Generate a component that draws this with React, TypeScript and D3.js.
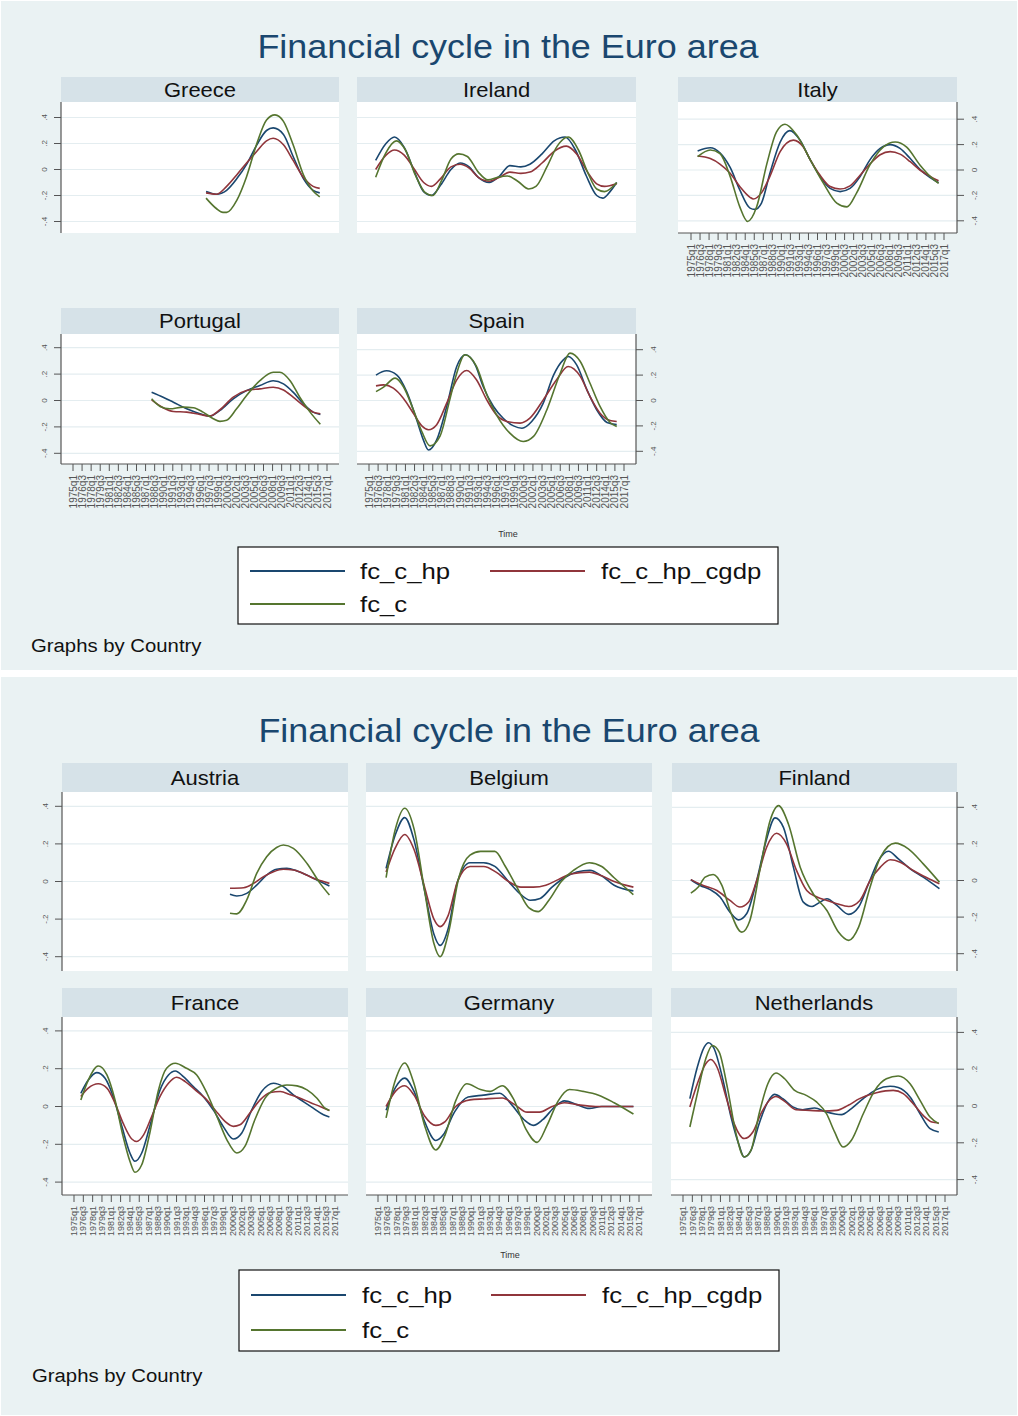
import React from "react";
import * as d3 from "d3";

type P = [number, number][];

const C_HP = "#1a476f";
const C_CGDP = "#90353b";
const C_C = "#55752f";

const seriesNames = ["fc_c_hp", "fc_c_hp_cgdp", "fc_c"];
const seriesColors = [C_HP, C_CGDP, C_C];

const yTickValues = [-0.4, -0.2, 0, 0.2, 0.4];
const yTickLabels = ["-.4", "-.2", "0", ".2", ".4"];

const xTickLabels = [
  "1975q1", "1976q3", "1978q1", "1979q3", "1981q1", "1982q3", "1984q1", "1985q3",
  "1987q1", "1988q3", "1990q1", "1991q3", "1993q1", "1994q3", "1996q1", "1997q3",
  "1999q1", "2000q3", "2002q1", "2003q3", "2005q1", "2006q3", "2008q1", "2009q3",
  "2011q1", "2012q3", "2014q1", "2015q3", "2017q1",
];
const xTickYears = xTickLabels.map((s) => +s.slice(0, 4) + (+s.slice(5) - 1) / 4);

// ---------- Graph 1 ----------
const greeceHp: P = [[1997.0,-0.17],[1998.7,-0.19],[2000.4,-0.16],[2002.1,-0.07],[2003.7,0.04],[2005.4,0.19],[2007.0,0.30],[2008.1,0.32],[2009.8,0.27],[2011.4,0.10],[2013.1,-0.07],[2014.7,-0.16],[2015.8,-0.18]];
const greeceCgdp: P = [[1997.0,-0.18],[1998.7,-0.19],[2000.4,-0.13],[2002.1,-0.04],[2003.7,0.05],[2005.4,0.14],[2007.0,0.22],[2008.1,0.24],[2009.8,0.19],[2011.4,0.07],[2013.1,-0.06],[2014.7,-0.13],[2015.8,-0.145]];
const greeceC: P = [[1997.0,-0.22],[1998.7,-0.30],[1999.8,-0.33],[2000.4,-0.33],[2002.1,-0.235],[2003.7,-0.055],[2005.4,0.20],[2007.0,0.38],[2008.4,0.42],[2009.8,0.37],[2011.4,0.19],[2013.1,-0.04],[2014.7,-0.165],[2015.8,-0.21]];

const irelandHp: P = [[1976.1,0.07],[1977.8,0.2],[1979.2,0.25],[1980.8,0.17],[1982.5,-0.02],[1984,-0.17],[1985.3,-0.2],[1986.8,-0.12],[1988.5,0.0],[1990.0,0.05],[1991.5,0.02],[1993,-0.06],[1994.8,-0.1],[1996.5,-0.05],[1998.2,0.03],[2000,0.02],[2001.5,0.04],[2003.5,0.12],[2005.5,0.22],[2007.3,0.25],[2009,0.15],[2010.8,-0.05],[2012.5,-0.2],[2013.5,-0.22],[2014.7,-0.17],[2015.8,-0.1]];
const irelandCgdp: P = [[1976.1,0.0],[1977.8,0.11],[1979.2,0.15],[1980.8,0.11],[1982.5,0.0],[1984,-0.1],[1985.3,-0.13],[1986.8,-0.07],[1988.5,0.02],[1990.0,0.04],[1991.5,0.01],[1993,-0.06],[1994.8,-0.09],[1996.5,-0.06],[1998.2,-0.02],[2000,-0.03],[2001.5,-0.02],[2003.5,0.05],[2005.5,0.14],[2007.5,0.18],[2009.2,0.12],[2011,-0.02],[2012.5,-0.11],[2013.8,-0.13],[2015.8,-0.11]];
const irelandC: P = [[1976.1,-0.06],[1977.8,0.13],[1979.5,0.22],[1981,0.15],[1982.7,-0.05],[1984.3,-0.18],[1985.5,-0.2],[1987,-0.08],[1988.5,0.08],[1989.8,0.12],[1991.2,0.1],[1993,-0.02],[1994.6,-0.08],[1996.2,-0.06],[1997.8,-0.05],[1999.5,-0.09],[2001.3,-0.15],[2002.5,-0.13],[2004.3,0.02],[2006,0.18],[2007.8,0.25],[2009.5,0.15],[2011,-0.02],[2012.5,-0.15],[2013.8,-0.17],[2015.8,-0.1]];

const italyHp: P = [[1976.1,0.15],[1978.2,0.175],[1979.8,0.135],[1981.5,0.02],[1983.1,-0.157],[1984.8,-0.30],[1985.6,-0.31],[1986.7,-0.26],[1988.1,-0.026],[1989.8,0.22],[1991.4,0.31],[1993.1,0.235],[1994.8,0.08],[1996.4,-0.05],[1998.1,-0.145],[1999.75,-0.17],[2001.4,-0.145],[2003.1,-0.05],[2004.7,0.08],[2006.4,0.17],[2008.06,0.20],[2009.7,0.17],[2011.4,0.09],[2013.0,0.005],[2014.7,-0.06],[2016.1,-0.10]];
const italyCgdp: P = [[1976.1,0.11],[1978.2,0.09],[1979.8,0.047],[1981.5,-0.026],[1983.1,-0.13],[1984.8,-0.215],[1985.35,-0.228],[1986.7,-0.18],[1988.1,-0.05],[1989.8,0.145],[1992.0,0.235],[1993.65,0.18],[1994.8,0.08],[1996.4,-0.04],[1998.1,-0.13],[1999.75,-0.15],[2001.4,-0.125],[2003.1,-0.04],[2004.7,0.047],[2006.4,0.12],[2008.06,0.145],[2009.7,0.125],[2011.4,0.065],[2013.0,0.0],[2014.7,-0.05],[2016.1,-0.085]];
const italyC: P = [[1976.1,0.105],[1978.2,0.157],[1979.8,0.13],[1981.5,-0.05],[1983.1,-0.29],[1984.4,-0.405],[1985.9,-0.29],[1987.6,0.05],[1989.2,0.30],[1990.6,0.36],[1992.55,0.275],[1994.8,0.08],[1997.0,-0.105],[1999.2,-0.26],[2000.9,-0.29],[2002.5,-0.18],[2004.7,0.04],[2006.9,0.18],[2008.9,0.22],[2010.8,0.18],[2013.0,0.04],[2014.7,-0.05],[2016.1,-0.105]];

const portugalHp: P = [[1988.0,0.063],[1989.9,0.025],[1991.6,-0.013],[1993.8,-0.063],[1996.0,-0.10],[1997.6,-0.118],[1999.3,-0.075],[2001.5,0.013],[2003.7,0.075],[2005.9,0.113],[2008.1,0.15],[2009.8,0.126],[2011.4,0.063],[2013.1,-0.025],[2014.7,-0.088],[2015.9,-0.106]];
const portugalCgdp: P = [[1988.0,0.005],[1989.9,-0.055],[1991.6,-0.083],[1993.8,-0.088],[1996.0,-0.106],[1997.6,-0.118],[1999.3,-0.07],[2001.5,0.025],[2003.7,0.075],[2005.9,0.088],[2008.1,0.10],[2009.8,0.08],[2011.4,0.025],[2013.1,-0.038],[2014.7,-0.088],[2015.9,-0.10]];
const portugalC: P = [[1988.0,0.013],[1989.4,-0.045],[1991.0,-0.063],[1993.2,-0.05],[1994.9,-0.055],[1996.5,-0.088],[1998.2,-0.138],[1999.3,-0.158],[2000.4,-0.15],[2002.05,-0.063],[2003.7,0.038],[2005.9,0.15],[2008.1,0.214],[2009.2,0.214],[2010.9,0.15],[2012.5,0.025],[2014.2,-0.088],[2015.9,-0.18]];

const spainHp: P = [[1976.15,0.20],[1977.9,0.234],[1979.6,0.20],[1981.2,0.07],[1982.85,-0.152],[1983.95,-0.31],[1984.8,-0.39],[1986.15,-0.31],[1987.8,-0.047],[1989.45,0.268],[1990.9,0.36],[1992.5,0.28],[1993.8,0.11],[1995.5,-0.047],[1997.1,-0.14],[1998.8,-0.20],[2000.2,-0.218],[2001.8,-0.165],[2003.7,-0.021],[2005.4,0.20],[2007.0,0.32],[2007.8,0.346],[2009.2,0.28],[2010.9,0.084],[2012.5,-0.073],[2014.2,-0.173],[2015.8,-0.19]];
const spainCgdp: P = [[1976.15,0.115],[1977.4,0.123],[1979.0,0.097],[1980.65,0.018],[1982.3,-0.10],[1983.7,-0.20],[1984.8,-0.23],[1986.15,-0.19],[1987.8,-0.021],[1989.45,0.163],[1991.1,0.236],[1992.7,0.163],[1994.4,0.005],[1996.0,-0.113],[1997.7,-0.165],[1999.9,-0.178],[2001.5,-0.139],[2003.7,0.005],[2005.9,0.163],[2007.8,0.268],[2009.8,0.19],[2011.4,0.031],[2013.05,-0.10],[2014.7,-0.157],[2015.8,-0.165]];
const spainC: P = [[1976.15,0.07],[1977.4,0.105],[1979.3,0.176],[1980.65,0.11],[1982.3,-0.073],[1983.7,-0.244],[1985.05,-0.357],[1986.7,-0.28],[1988.3,0.005],[1989.45,0.215],[1990.8,0.36],[1992.7,0.268],[1994.4,0.045],[1996.0,-0.113],[1998.2,-0.257],[2000.4,-0.323],[2002.1,-0.283],[2004.3,-0.073],[2006.5,0.215],[2008.1,0.373],[2009.8,0.307],[2011.4,0.136],[2013.05,-0.047],[2014.7,-0.173],[2015.8,-0.205]];

// ---------- Graph 2 ----------
const austriaHp: P = [[2000.1,-0.068],[2001.2,-0.077],[2002.8,-0.063],[2004.4,-0.019],[2006.0,0.034],[2007.6,0.065],[2009.25,0.07],[2010.9,0.056],[2012.5,0.034],[2014.1,0.008],[2016.1,-0.024]];
const austriaCgdp: P = [[2000.1,-0.036],[2002.3,-0.033],[2003.9,-0.01],[2005.5,0.026],[2007.1,0.052],[2008.7,0.065],[2010.3,0.061],[2011.9,0.043],[2013.5,0.017],[2015.15,0.0],[2016.1,-0.01]];
const austriaC: P = [[2000.1,-0.169],[2001.2,-0.172],[2002.8,-0.098],[2004.4,0.043],[2006.0,0.132],[2007.6,0.181],[2008.7,0.194],[2010.3,0.176],[2012.5,0.096],[2014.6,-0.01],[2016.1,-0.072]];

const belgiumHp: P = [[1976.3,0.07],[1977.8,0.25],[1979.3,0.34],[1980.8,0.22],[1982.5,-0.05],[1984.0,-0.28],[1985.0,-0.34],[1986.3,-0.25],[1987.8,0.0],[1989.8,0.10],[1992,0.1],[1993.8,0.08],[1996,0.0],[1998,-0.07],[1999.5,-0.1],[2001.1,-0.09],[2003,-0.03],[2005,0.02],[2007,0.05],[2009.1,0.06],[2011,0.03],[2013,-0.02],[2016.1,-0.05]];
const belgiumCgdp: P = [[1976.3,0.05],[1977.8,0.18],[1979.3,0.25],[1980.8,0.17],[1982.5,-0.03],[1984,-0.2],[1985,-0.24],[1986.3,-0.18],[1987.8,0.0],[1989.8,0.08],[1992,0.08],[1994,0.05],[1996,0.0],[1998,-0.03],[2000,-0.03],[2002,-0.02],[2004,0.01],[2006,0.04],[2009,0.05],[2011,0.03],[2013,0.0],[2016.1,-0.03]];
const belgiumC: P = [[1976.3,0.02],[1977.8,0.28],[1979.3,0.39],[1980.8,0.28],[1982.5,-0.05],[1984,-0.33],[1985,-0.40],[1986.3,-0.28],[1988,0.02],[1989.8,0.14],[1991.5,0.16],[1993.8,0.16],[1995.5,0.08],[1997.5,-0.04],[1999.3,-0.14],[2000.8,-0.16],[2002.5,-0.1],[2004.5,0.0],[2006.5,0.06],[2009,0.10],[2011,0.08],[2013,0.02],[2016.1,-0.07]];

const finlandHp: P = [[1976.1,0.004],[1977.6,-0.027],[1979.2,-0.05],[1980.8,-0.09],[1982.4,-0.173],[1983.75,-0.215],[1985.1,-0.18],[1986.7,0.0],[1988.3,0.227],[1989.65,0.342],[1991.0,0.29],[1992.6,0.073],[1994.2,-0.118],[1995.6,-0.142],[1996.9,-0.118],[1998.0,-0.10],[1999.6,-0.136],[2001.5,-0.185],[2003.1,-0.145],[2004.7,-0.018],[2006.3,0.109],[2007.9,0.16],[2009.5,0.118],[2011.4,0.064],[2013.5,0.018],[2016.1,-0.045]];
const finlandCgdp: P = [[1976.1,0.005],[1978.1,-0.027],[1980.3,-0.055],[1982.4,-0.109],[1984.0,-0.145],[1985.4,-0.118],[1986.7,0.0],[1988.3,0.182],[1989.9,0.258],[1991.5,0.20],[1993.1,0.055],[1994.75,-0.055],[1996.4,-0.09],[1998.0,-0.109],[1999.6,-0.127],[2001.5,-0.142],[2003.3,-0.109],[2004.95,0.0],[2006.6,0.073],[2008.2,0.113],[2009.8,0.10],[2011.9,0.055],[2014.1,0.015],[2016.1,-0.018]];
const finlandC: P = [[1976.1,-0.069],[1977.3,-0.036],[1978.4,0.018],[1979.7,0.033],[1981.1,-0.027],[1982.4,-0.164],[1984.3,-0.282],[1985.6,-0.218],[1987.2,0.055],[1988.85,0.327],[1990.2,0.409],[1991.8,0.309],[1993.7,0.073],[1995.8,-0.073],[1998.0,-0.164],[1999.85,-0.282],[2001.5,-0.327],[2003.1,-0.255],[2004.95,-0.036],[2006.6,0.127],[2009.0,0.204],[2011.1,0.173],[2013.5,0.091],[2016.1,-0.009]];

const franceHp: P = [[1976.1,0.07],[1977.3,0.14],[1978.65,0.179],[1980.0,0.149],[1981.3,0.053],[1982.7,-0.105],[1984.0,-0.246],[1984.8,-0.29],[1985.9,-0.246],[1987.2,-0.105],[1988.85,0.088],[1990.2,0.167],[1991.3,0.188],[1992.6,0.158],[1994.2,0.105],[1995.8,0.053],[1997.4,-0.018],[1999.0,-0.105],[2000.65,-0.172],[2002.0,-0.14],[2003.6,-0.018],[2005.2,0.079],[2007.1,0.123],[2008.7,0.105],[2010.3,0.062],[2011.9,0.026],[2013.5,-0.009],[2015.15,-0.044],[2016.1,-0.056]];
const franceCgdp: P = [[1976.1,0.053],[1977.3,0.097],[1978.9,0.12],[1980.3,0.097],[1981.6,0.018],[1982.9,-0.088],[1984.3,-0.172],[1985.1,-0.185],[1986.2,-0.15],[1987.5,-0.053],[1988.85,0.053],[1990.2,0.123],[1991.5,0.155],[1992.9,0.132],[1994.5,0.088],[1996.1,0.044],[1997.7,-0.018],[1999.3,-0.079],[2000.65,-0.105],[2001.7,-0.097],[2003.3,-0.035],[2004.95,0.035],[2006.6,0.074],[2008.2,0.079],[2009.8,0.062],[2011.4,0.044],[2013.0,0.021],[2014.6,0.0],[2016.1,-0.021]];
const franceC: P = [[1976.1,0.035],[1977.3,0.14],[1978.9,0.214],[1980.3,0.167],[1981.6,0.035],[1982.9,-0.158],[1984.0,-0.29],[1984.8,-0.348],[1985.9,-0.308],[1987.2,-0.14],[1988.6,0.088],[1989.9,0.202],[1991.3,0.229],[1993.1,0.202],[1994.75,0.167],[1996.4,0.07],[1998.0,-0.053],[1999.6,-0.176],[2001.2,-0.246],[2002.5,-0.211],[2004.1,-0.07],[2005.75,0.044],[2007.6,0.097],[2009.25,0.114],[2010.9,0.109],[2012.5,0.088],[2014.1,0.044],[2015.4,-0.009],[2016.1,-0.021]];

const germanyHp: P = [[1976.3,-0.02],[1977.8,0.1],[1979.3,0.15],[1980.8,0.08],[1982.5,-0.08],[1984.3,-0.18],[1985.5,-0.15],[1987.3,-0.03],[1989.5,0.05],[1992,0.06],[1994.6,0.07],[1996.5,0.01],[1998.5,-0.07],[2000,-0.1],[2001.5,-0.07],[2003.5,0.0],[2005,0.03],[2007,0.01],[2009,-0.01],[2011,0.0],[2013.5,0.0],[2016.1,0.0]];
const germanyCgdp: P = [[1976.3,0.0],[1977.8,0.08],[1979.3,0.11],[1980.8,0.06],[1982.5,-0.05],[1984.3,-0.1],[1985.8,-0.08],[1987.5,0.0],[1989.8,0.035],[1992,0.04],[1995,0.045],[1997,0.01],[1999,-0.03],[2001,-0.03],[2003,0.0],[2005,0.02],[2007,0.01],[2010,0.0],[2013,0.0],[2016.1,0.0]];
const germanyC: P = [[1976.3,-0.06],[1977.8,0.14],[1979.3,0.23],[1980.8,0.12],[1982.5,-0.1],[1984.3,-0.23],[1985.8,-0.15],[1987.5,0.03],[1989.3,0.12],[1991.5,0.09],[1993,0.08],[1995,0.11],[1996.8,0.04],[1998.8,-0.12],[2000.6,-0.19],[2002.2,-0.1],[2004,0.03],[2005.8,0.09],[2008,0.08],[2010.5,0.06],[2013,0.02],[2016.1,-0.04]];

const netherlandsHp: P = [[1976.1,0.04],[1977.3,0.212],[1978.4,0.32],[1979.1,0.344],[1980.0,0.311],[1981.3,0.157],[1982.7,-0.06],[1984.0,-0.214],[1984.8,-0.277],[1985.9,-0.241],[1987.2,-0.096],[1988.6,0.022],[1989.65,0.063],[1991.0,0.04],[1992.6,-0.005],[1994.2,-0.02],[1996.1,-0.011],[1998.0,-0.033],[2000.4,-0.047],[2002.0,-0.014],[2003.9,0.04],[2006.0,0.089],[2008.2,0.107],[2009.5,0.10],[2011.4,0.049],[2013.0,-0.042],[2014.6,-0.123],[2016.0,-0.141]];
const netherlandsCgdp: P = [[1976.1,-0.005],[1977.3,0.121],[1978.65,0.23],[1979.45,0.253],[1980.5,0.208],[1981.9,0.049],[1983.2,-0.096],[1984.8,-0.177],[1986.2,-0.141],[1987.5,-0.042],[1988.85,0.031],[1989.9,0.052],[1991.3,0.025],[1993.1,-0.02],[1995.3,-0.024],[1997.4,-0.027],[1999.6,-0.024],[2001.5,0.004],[2003.3,0.04],[2006.0,0.072],[2008.7,0.085],[2010.3,0.067],[2011.9,0.013],[2013.5,-0.051],[2014.9,-0.087],[2016.0,-0.092]];
const netherlandsC: P = [[1976.1,-0.114],[1977.3,0.067],[1978.65,0.257],[1979.7,0.329],[1980.8,0.293],[1982.1,0.103],[1983.5,-0.15],[1984.8,-0.277],[1985.9,-0.241],[1987.2,-0.042],[1988.6,0.121],[1989.9,0.179],[1991.3,0.148],[1992.9,0.085],[1994.75,0.058],[1996.4,0.022],[1998.0,-0.042],[1999.3,-0.141],[2000.65,-0.223],[2002.0,-0.186],[2003.9,-0.042],[2005.75,0.085],[2007.6,0.148],[2009.5,0.163],[2011.4,0.121],[2013.0,0.031],[2014.6,-0.06],[2016.0,-0.096]];

const BG = "#eaf2f3";
const STRIP = "#d6e2e8";
const GRID = "#e4edf0";
const FONT = "'Liberation Sans', Arial, Helvetica, sans-serif";

interface PanelSpec {
  name: string;
  x0: number;
  x1: number;
  stripTop: number;
  stripH: number;
  plotH: number;
  zeroOff: number;
  unitPx: number;
  yAxis: "left" | "right" | "none";
  xAxis: boolean;
  padL: number;
  padR: number;
  xFont: number;
  series: P[];
}

function SText({ x, y, sx, size, anchor, fill, children }: any) {
  return (
    <text
      transform={`translate(${x},${y}) scale(${sx},1)`}
      dy="0.36em"
      textAnchor={anchor || "start"}
      fontSize={size}
      fill={fill || "#111"}
    >
      {children}
    </text>
  );
}

function Panel({ s }: { s: PanelSpec }) {
  const plotTop = s.stripTop + s.stripH;
  const plotBot = plotTop + s.plotH;
  const x = d3.scaleLinear().domain([1975, 2017]).range([s.x0 + s.padL, s.x1 - s.padR]);
  const y = d3
    .scaleLinear()
    .domain([0, 1])
    .range([plotTop + s.zeroOff, plotTop + s.zeroOff - s.unitPx]);
  const line = d3
    .line<[number, number]>()
    .x((d) => x(d[0]))
    .y((d) => y(d[1]))
    .curve(d3.curveMonotoneX);
  const axX = s.yAxis === "left" ? s.x0 : s.x1;
  const dir = s.yAxis === "left" ? -1 : 1;
  return (
    <g>
      <rect x={s.x0} y={s.stripTop} width={s.x1 - s.x0} height={s.stripH} fill={STRIP} />
      <SText x={(s.x0 + s.x1) / 2} y={s.stripTop + s.stripH / 2} sx={1.1} size={20} anchor="middle">
        {s.name}
      </SText>
      <rect x={s.x0} y={plotTop} width={s.x1 - s.x0} height={s.plotH} fill="#fff" />
      {yTickValues.map((v) => (
        <line key={"g" + v} x1={s.x0} x2={s.x1} y1={y(v)} y2={y(v)} stroke={GRID} strokeWidth={1.2} />
      ))}
      {s.series.map((d, i) => (
        <path key={i} d={line(d) || ""} fill="none" stroke={seriesColors[i]} strokeWidth={1.6} />
      ))}
      {s.yAxis !== "none" && (
        <g>
          <line x1={axX} x2={axX} y1={plotTop} y2={plotBot} stroke="#555" strokeWidth={1.2} />
          {yTickValues.map((v, i) => (
            <g key={"yt" + v}>
              <line x1={axX} x2={axX + dir * 7} y1={y(v)} y2={y(v)} stroke="#555" strokeWidth={1} />
              <text
                transform={`translate(${axX + dir * 17},${y(v)}) rotate(-90)`}
                dy="0.35em"
                textAnchor="middle"
                fontSize={8}
                fill="#555"
              >
                {yTickLabels[i]}
              </text>
            </g>
          ))}
        </g>
      )}
      {s.xAxis && (
        <g>
          <line x1={s.x0} x2={s.x1} y1={plotBot} y2={plotBot} stroke="#555" strokeWidth={1.2} />
          {xTickYears.map((t, i) => (
            <g key={"xt" + i}>
              <line x1={x(t)} x2={x(t)} y1={plotBot} y2={plotBot + 7} stroke="#555" strokeWidth={1} />
              <text
                transform={`translate(${x(t)},${plotBot + 11}) rotate(-90)`}
                dy="0.35em"
                textAnchor="end"
                fontSize={s.xFont}
                fill="#555"
              >
                {xTickLabels[i]}
              </text>
            </g>
          ))}
        </g>
      )}
    </g>
  );
}

function Legend({ x0, x1, top, bottom, row1, row2, tx1, tx2 }: any) {
  return (
    <g>
      <rect x={x0} y={top} width={x1 - x0} height={bottom - top} fill="#fff" stroke="#111" strokeWidth={1.2} />
      <line x1={x0 + 12} x2={x0 + 107} y1={row1} y2={row1} stroke={seriesColors[0]} strokeWidth={2} />
      <SText x={tx1} y={row1} sx={1.12} size={23}>{seriesNames[0]}</SText>
      <line x1={x0 + 252} x2={x0 + 347} y1={row1} y2={row1} stroke={seriesColors[1]} strokeWidth={2} />
      <SText x={tx2} y={row1} sx={1.12} size={23}>{seriesNames[1]}</SText>
      <line x1={x0 + 12} x2={x0 + 107} y1={row2} y2={row2} stroke={seriesColors[2]} strokeWidth={2} />
      <SText x={tx1} y={row2} sx={1.12} size={23}>{seriesNames[2]}</SText>
    </g>
  );
}

export default function App() {
  const top1: PanelSpec[] = [
    { name: "Greece", x0: 61, x1: 339, stripTop: 77, stripH: 25, plotH: 131, zeroOff: 67.5, unitPx: 130, yAxis: "left", xAxis: false, padL: 12, padR: 12, xFont: 10, series: [greeceHp, greeceCgdp, greeceC] },
    { name: "Ireland", x0: 357, x1: 636, stripTop: 77, stripH: 25, plotH: 131, zeroOff: 67.5, unitPx: 130, yAxis: "none", xAxis: false, padL: 12, padR: 12, xFont: 10, series: [irelandHp, irelandCgdp, irelandC] },
    { name: "Italy", x0: 678, x1: 957, stripTop: 77, stripH: 25, plotH: 131, zeroOff: 68, unitPx: 127, yAxis: "right", xAxis: true, padL: 13, padR: 13, xFont: 10, series: [italyHp, italyCgdp, italyC] },
    { name: "Portugal", x0: 61, x1: 339, stripTop: 308, stripH: 26, plotH: 130, zeroOff: 66.5, unitPx: 132, yAxis: "left", xAxis: true, padL: 12, padR: 12, xFont: 10, series: [portugalHp, portugalCgdp, portugalC] },
    { name: "Spain", x0: 357, x1: 636, stripTop: 308, stripH: 26, plotH: 130, zeroOff: 66.5, unitPx: 127, yAxis: "right", xAxis: true, padL: 12, padR: 12, xFont: 10, series: [spainHp, spainCgdp, spainC] },
  ];
  const top2: PanelSpec[] = [
    { name: "Austria", x0: 62, x1: 348, stripTop: 763, stripH: 29, plotH: 179, zeroOff: 89.5, unitPx: 188, yAxis: "left", xAxis: false, padL: 12, padR: 13, xFont: 9, series: [austriaHp, austriaCgdp, austriaC] },
    { name: "Belgium", x0: 366, x1: 652, stripTop: 763, stripH: 29, plotH: 179, zeroOff: 89.5, unitPx: 188, yAxis: "none", xAxis: false, padL: 12, padR: 13, xFont: 9, series: [belgiumHp, belgiumCgdp, belgiumC] },
    { name: "Finland", x0: 672, x1: 957, stripTop: 763, stripH: 29, plotH: 179, zeroOff: 88.5, unitPx: 183, yAxis: "right", xAxis: false, padL: 12, padR: 12, xFont: 9, series: [finlandHp, finlandCgdp, finlandC] },
    { name: "France", x0: 62, x1: 348, stripTop: 988, stripH: 29, plotH: 178, zeroOff: 89.5, unitPx: 189, yAxis: "left", xAxis: true, padL: 12, padR: 13, xFont: 9, series: [franceHp, franceCgdp, franceC] },
    { name: "Germany", x0: 366, x1: 652, stripTop: 988, stripH: 29, plotH: 178, zeroOff: 89.5, unitPx: 189, yAxis: "none", xAxis: true, padL: 12, padR: 13, xFont: 9, series: [germanyHp, germanyCgdp, germanyC] },
    { name: "Netherlands", x0: 671, x1: 957, stripTop: 988, stripH: 29, plotH: 178, zeroOff: 89, unitPx: 184, yAxis: "right", xAxis: true, padL: 12, padR: 12, xFont: 9, series: [netherlandsHp, netherlandsCgdp, netherlandsC] },
  ];
  return (
    <svg
      width={1018}
      height={1416}
      style={{ position: "absolute", left: 0, top: 0, display: "block" }}
      fontFamily={FONT}
    >
      <rect x={0} y={0} width={1018} height={1416} fill="#fff" />
      <rect x={1} y={1} width={1016} height={669} fill={BG} />
      <rect x={1} y={677} width={1016} height={738} fill={BG} />

      <SText x={508} y={46} sx={1.057} size={34} anchor="middle" fill="#1a476f">
        Financial cycle in the Euro area
      </SText>
      {top1.map((s) => (
        <Panel key={s.name} s={s} />
      ))}
      <text x={508} y={534} dy="0.35em" textAnchor="middle" fontSize={9} fill="#333">Time</text>
      <Legend x0={238} x1={778} top={547} bottom={624} row1={571} row2={604} tx1={360} tx2={601} />
      <SText x={31} y={645} sx={1.07} size={19}>Graphs by Country</SText>

      <SText x={509} y={730} sx={1.057} size={34} anchor="middle" fill="#1a476f">
        Financial cycle in the Euro area
      </SText>
      {top2.map((s) => (
        <Panel key={s.name} s={s} />
      ))}
      <text x={510} y={1255} dy="0.35em" textAnchor="middle" fontSize={9} fill="#333">Time</text>
      <Legend x0={239} x1={779} top={1270} bottom={1351} row1={1295} row2={1330} tx1={362} tx2={602} />
      <SText x={32} y={1375} sx={1.07} size={19}>Graphs by Country</SText>
    </svg>
  );
}
